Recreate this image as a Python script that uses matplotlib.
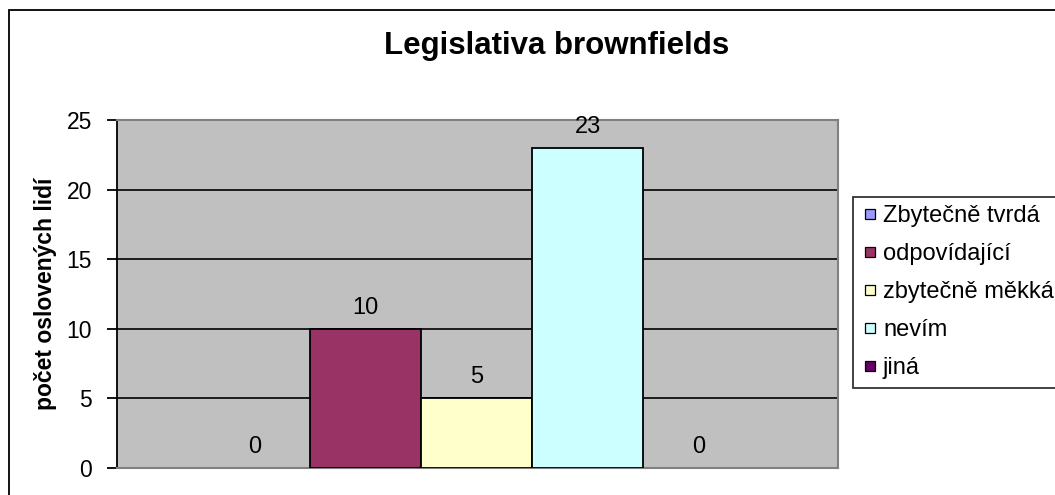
import matplotlib.pyplot as plt
from matplotlib.patches import Rectangle
from matplotlib.lines import Line2D
import numpy as np

# data
categories = ['Zbytečně tvrdá', 'odpovídající', 'zbytečně měkká', 'nevím', 'jiná']
values     = [0, 10, 5, 23, 0]
colors     = ['#9999FF', '#993366', '#FFFFCC', '#CCFFFF', '#660066']
yticks     = [0, 5, 10, 15, 20, 25]

title  = 'Legislativa brownfields'
ylabel = 'počet oslovených lidí'
font   = 'Liberation Sans'

W, H = 1055, 495
fig = plt.figure(figsize=(W / 100, H / 100), dpi=100)
fig.patch.set_facecolor('white')

# outer chart border (cut off at right/bottom)
fig.patches.append(Rectangle((8.5 / W, -0.1), 1.2, (H - 9.5) / H + 0.1,
                             transform=fig.transFigure, fill=False,
                             edgecolor='black', linewidth=1.3))

ax = fig.add_axes([117 / W, (H - 468) / H, (838 - 117) / W, (468 - 120) / H])
ax.set_facecolor('#C0C0C0')

positions = np.arange(len(categories))
edges = ['black' if v > 0 else 'none' for v in values]
ax.bar(positions, values, width=1.0, color=colors,
       edgecolor=edges, linewidth=1.3, zorder=3)
for p, v in zip(positions, values):
    ax.annotate(str(v), (p, v), xytext=(0, 15), textcoords='offset pixels',
                ha='center', va='baseline', fontsize=17, fontname=font,
                zorder=4, annotation_clip=False)

ax.set_xlim(-1.245, 5.26)
ax.set_ylim(0, 25)
ax.set_yticks(yticks)
ax.set_xticks([])
ax.grid(axis='y', color='black', linewidth=1.2, zorder=1)
ax.set_axisbelow(True)

for s in ['top', 'right', 'bottom']:
    ax.spines[s].set_color('#808080')
    ax.spines[s].set_linewidth(1.5)
ax.spines['left'].set_color('black')
ax.spines['left'].set_linewidth(1.3)
ax.tick_params(axis='y', direction='out', length=7, width=1.3, pad=11,
               labelsize=16.5)
for lbl in ax.get_yticklabels():
    lbl.set_fontname(font)

ax.set_ylabel(ylabel, fontsize=16.5, fontweight='bold', fontname=font,
              labelpad=7)
fig.text(557 / W, (H - 54) / H, title, ha='center', va='baseline',
         fontsize=22.5, fontweight='bold', fontname=font)

handles = [Line2D([], [], linestyle='none', marker='s', markersize=6.5,
                  markerfacecolor=c, markeredgecolor='black',
                  markeredgewidth=0.9) for c in colors]
leg = fig.legend(handles, categories, loc='upper left',
                 bbox_to_anchor=(853 / W, (H - 197) / H),
                 prop={'family': font, 'size': 17}, frameon=True, fancybox=False,
                 edgecolor='black', handlelength=0.7, handletextpad=0.22,
                 labelspacing=0.68, borderpad=0.35, borderaxespad=0)
leg.get_frame().set_linewidth(1.3)

fig.savefig('out.png', dpi=100)
